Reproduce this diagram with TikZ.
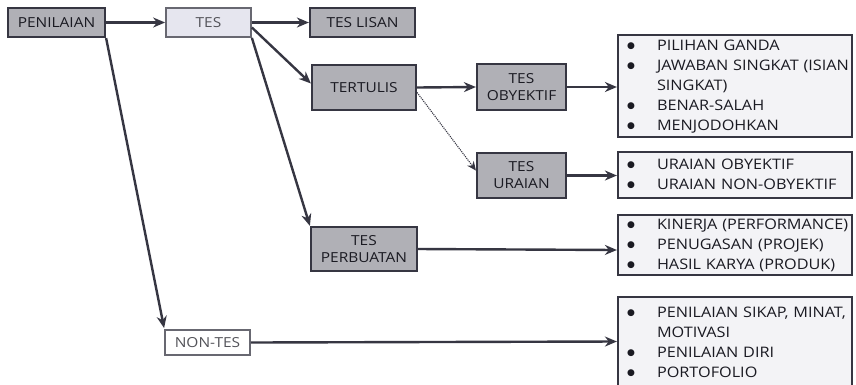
\documentclass[tikz,border=0pt]{standalone}
\usepackage{fontspec}
\setmainfont[FakeStretch=1.12]{Open Sans}
\newfontfamily\symfont{DejaVu Sans}
\usetikzlibrary{arrows.meta,calc}
\definecolor{boxgray}{HTML}{B0B0B6}
\definecolor{lightbox}{HTML}{E6E6EF}
\definecolor{listbg}{HTML}{F3F3F6}
\definecolor{edgecol}{HTML}{363642}
\definecolor{txt}{HTML}{1A1A22}
\newcommand{\bl}{\hspace*{1pt}\raisebox{1.2pt}{\symfont\fontsize{9}{9}\selectfont ●}}
\begin{document}
\begin{tikzpicture}[x=1pt,y=-1pt,
  font=\fontsize{14.5}{20}\selectfont,
  darkbox/.style={draw=edgecol, line width=2.2pt, fill=boxgray, inner sep=0pt,
    align=center, text=txt, font=\fontsize{13.8}{17}\selectfont},
  lightnode/.style={draw=edgecol!75, line width=1.8pt, fill=lightbox, inner sep=0pt,
    align=center, text=txt!75, font=\fontsize{13.8}{17}\selectfont},
  listbox/.style={draw=edgecol, line width=2.2pt, fill=listbg, inner xsep=8pt, inner ysep=0pt,
    text width=218pt, minimum width=234pt, align=left, text=txt},
  arr/.style={draw=edgecol, line width=2.4pt, -{Stealth[length=12pt,width=10pt]}},
  thinarr/.style={draw=edgecol, line width=1.1pt, densely dotted, -{Stealth[length=9pt,width=8pt]}}
]
\useasboundingbox (0,0) rectangle (856,384);
\fill[white] (0,0) rectangle (856,384);

% left column nodes
\node[darkbox, minimum width=97pt, minimum height=29pt] (pen) at (56.5,22.5) {PENILAIAN};
\node[lightnode, minimum width=85pt, minimum height=29pt] (tes) at (208.5,22.5) {TES};
\node[darkbox, minimum width=105pt, minimum height=29pt] (lisan) at (362.5,22.5) {TES LISAN};
\node[darkbox, minimum width=104pt, minimum height=45pt] (tertulis) at (364,87.5) {TERTULIS};
\node[darkbox, minimum width=89pt, minimum height=46pt] (obj) at (521.5,87) {TES\\OBYEKTIF};
\node[darkbox, minimum width=89pt, minimum height=45pt] (uraian) at (521.5,175.5) {TES\\URAIAN};
\node[darkbox, minimum width=106pt, minimum height=44pt] (perb) at (364,249) {TES\\PERBUATAN};
\node[lightnode, fill=white, minimum width=85pt, minimum height=25pt] (nontes) at (207.5,342.5) {NON-TES};

% list boxes
\node[listbox, minimum height=102pt] (l1) at (735,86) {%
\begin{tabular}{@{}p{31pt}@{}l@{}}
\bl & PILIHAN GANDA\\
\bl & JAWABAN SINGKAT (ISIAN\\
    & SINGKAT)\\
\bl & BENAR-SALAH\\
\bl & MENJODOHKAN
\end{tabular}};
\node[listbox, minimum height=46pt] (l2) at (735,175) {%
\begin{tabular}{@{}p{31pt}@{}l@{}}
\bl & URAIAN OBYEKTIF\\
\bl & URAIAN NON-OBYEKTIF
\end{tabular}};
\node[listbox, minimum height=60pt] (l3) at (735,245) {%
\begin{tabular}{@{}p{31pt}@{}l@{}}
\bl & KINERJA (PERFORMANCE)\\
\bl & PENUGASAN (PROJEK)\\
\bl & HASIL KARYA (PRODUK)
\end{tabular}};
\node[listbox, minimum height=92pt] (l4) at (735,343) {%
\begin{tabular}{@{}p{31pt}@{}l@{}}
\bl & PENILAIAN SIKAP, MINAT,\\
    & MOTIVASI\\
\bl & PENILAIAN DIRI\\
\bl & PORTOFOLIO
\end{tabular}};

% connectors
\draw[arr] (pen.east) -- (tes.west);
\draw[arr] (tes.east) -- (lisan.west);
\draw[arr] ([yshift=-5pt]tes.east) -- ([yshift=4pt]tertulis.west);
\draw[arr] (tes.south east) -- (perb.north west);
\draw[arr] (pen.south east) -- ([yshift=1pt]nontes.north west);
\draw[arr] (tertulis.east) -- (obj.west);
\draw[thinarr] ([yshift=-5pt]tertulis.east) -- ([yshift=5pt]uraian.west);
\draw[arr] (obj.east) -- (obj.east -| l1.west);
\draw[arr] (uraian.east) -- (uraian.east -| l2.west);
\draw[arr] (perb.east) -- ([yshift=-1pt]perb.east -| l3.west);
\draw[arr] (nontes.east) -- ([yshift=1pt]nontes.east -| l4.west);
\end{tikzpicture}
\end{document}
